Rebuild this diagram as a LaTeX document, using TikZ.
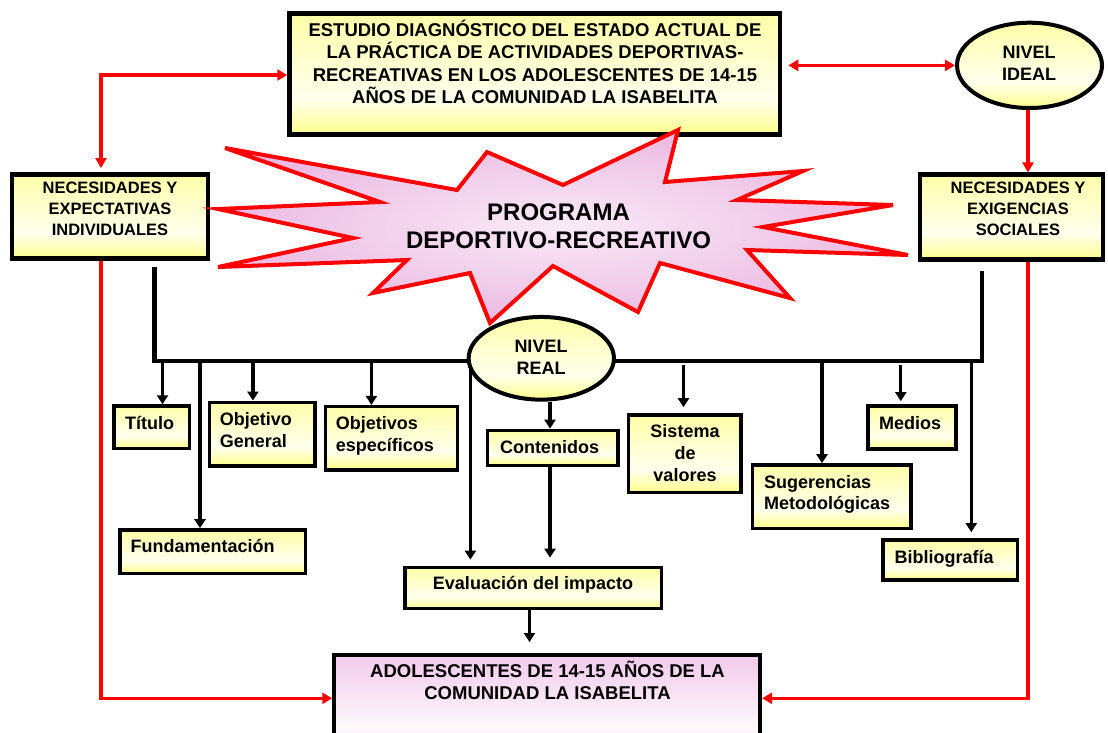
\documentclass[tikz,border=0pt]{standalone}
\usepackage{fontspec}
\setmainfont{Liberation Sans}
\usetikzlibrary{arrows.meta,shapes.geometric}
\definecolor{ycol}{RGB}{255,255,140}
\colorlet{ylight}{ycol!15!white}
\colorlet{ymid}{ycol!75!white}
\definecolor{pcol}{RGB}{240,196,232}
\definecolor{pstarcol}{RGB}{236,186,226}
\colorlet{plight}{pcol!10!white}
\colorlet{pmid}{pcol!90!white}
\colorlet{pstar}{pstarcol!30!white}
\definecolor{rcol}{RGB}{255,0,0}
\pgfdeclareverticalshading{yshade}{100bp}{color(0bp)=(ycol); color(25bp)=(ycol); color(40bp)=(ylight); color(75bp)=(ymid); color(100bp)=(ymid)}
\pgfdeclareverticalshading{pshade}{100bp}{color(0bp)=(pcol); color(25bp)=(pcol); color(40bp)=(plight); color(75bp)=(pmid); color(100bp)=(pmid)}
\pgfdeclarelayer{back}
\pgfdeclarelayer{bg}
\pgfsetlayers{back,bg,main}
\begin{document}
\begin{tikzpicture}[x=1pt,y=-1pt,
  ybox/.style={rectangle, draw=black, line width=3.5pt, shading=yshade, inner sep=0pt},
  pbox/.style={rectangle, draw=black, line width=4pt, shading=pshade, inner sep=0pt},
  yell/.style={ellipse, draw=black, line width=4pt, shading=yshade, inner sep=0pt},
  starshape/.style={draw=rcol, line width=4pt, inner color=pstar, outer color=pstarcol},
  tx/.style={font=\bfseries\fontsize{18}{22}\selectfont, inner sep=0pt},
  bigtx/.style={font=\bfseries\fontsize{24}{28}\selectfont, inner sep=0pt, align=center},
  arr/.style={draw=black, line width=3.2pt, -{Triangle[length=9pt,width=11pt]}},
  busline/.style={draw=black, line width=4.5pt},
  rarr/.style={draw=rcol, line width=3.2pt, -{Triangle[length=10pt,width=11pt]}},
  rboth/.style={draw=rcol, line width=3.2pt, {Triangle[length=10pt,width=11pt]}-{Triangle[length=10pt,width=11pt]}}
]
\clip (0,0) rectangle (1108,732);
\begin{pgfonlayer}{back}
\fill[white] (0,0) rectangle (1108,732);
\end{pgfonlayer}
% main boxes
\node[ybox, line width=4.5pt, minimum width=490.5pt, minimum height=121pt] (top) at (534.75,74.2) {};
\node[ybox, line width=4.5pt, minimum width=196pt, minimum height=84.4pt] (nea) at (110,216.5) {};
\node[ybox, line width=4.5pt, minimum width=183pt, minimum height=85pt] (nes) at (1011.5,217.2) {};
\node[yell, minimum width=145pt, minimum height=85.3pt] (ideal) at (1029.5,65.35) {};
% starburst
\draw[starshape] (225,148) -- (457,190) -- (487,152) -- (563,185) -- (678,130) -- (665,182) -- (803,171) -- (737,200) -- (893,205) -- (763,227) -- (908,255) -- (747,250) -- (790,298) -- (660,263) -- (638,312) -- (553,266) -- (490,323) -- (470,273) -- (373,293) -- (407,260) -- (218,267) -- (353,238) -- (218,209) -- (380,202) -- cycle;
\node[yell, minimum width=145.3pt, minimum height=82.7pt] (real) at (541.3,358.3) {};
% small boxes
\node[ybox, minimum width=75.5pt, minimum height=42.4pt] (titulo) at (151.8,427.2) {};
\node[ybox, minimum width=105.3pt, minimum height=63.8pt] (objgen) at (262.2,434.2) {};
\node[ybox, minimum width=131.8pt, minimum height=63.5pt] (objesp) at (391.5,438.4) {};
\node[ybox, minimum width=185.2pt, minimum height=43.5pt] (fund) at (212.8,551.7) {};
\node[ybox, minimum width=130.3pt, minimum height=35pt] (cont) at (552.8,447.9) {};
\node[ybox, minimum width=256.4pt, minimum height=41.1pt] (eval) at (533.4,587.9) {};
\node[ybox, minimum width=112.5pt, minimum height=77.8pt] (sist) at (684.7,453.8) {};
\node[ybox, minimum width=158.4pt, minimum height=63.5pt] (sug) at (831.6,496.7) {};
\node[ybox, minimum width=87.9pt, minimum height=43.2pt] (medios) at (912,427.5) {};
\node[ybox, minimum width=134.2pt, minimum height=40.2pt] (biblio) at (950.3,560) {};
\node[pbox, minimum width=425.8pt, minimum height=105pt] (bot) at (547.2,707.5) {};
% texts
\node[tx, align=center, font=\bfseries\fontsize{18.5}{22.5}\selectfont] (ttop) at (535,62) {ESTUDIO DIAGNÓSTICO DEL ESTADO ACTUAL DE\\LA PRÁCTICA DE ACTIVIDADES DEPORTIVAS-\\RECREATIVAS EN LOS ADOLESCENTES DE 14-15\\AÑOS DE LA COMUNIDAD LA ISABELITA};
\node[tx, align=center, font=\bfseries\fontsize{16.5}{21}\selectfont] (tnea) at (110,208.8) {NECESIDADES Y\\EXPECTATIVAS\\INDIVIDUALES};
\node[tx, align=center, font=\bfseries\fontsize{16.5}{21}\selectfont] (tnes) at (1018,208.7) {NECESIDADES Y\\EXIGENCIAS\\SOCIALES};
\node[tx, align=center] (tideal) at (1029,63) {NIVEL\\IDEAL};
\node[tx, align=center, font=\bfseries\fontsize{18}{21.6}\selectfont] (treal) at (541,357.5) {NIVEL\\REAL};
\node[bigtx] (tprog) at (558.5,226.7) {PROGRAMA\\DEPORTIVO-RECREATIVO};
\node[tx, anchor=west] (ttit) at (125,422.7) {Título};
\node[tx, anchor=west, align=left] (tobjg) at (219.6,430) {Objetivo\\General};
\node[tx, anchor=west, align=left] (tobje) at (335.7,435.9) {Objetivos\\específicos};
\node[tx, anchor=west] (tfund) at (130.4,546) {Fundamentación};
\node[tx] (tcont) at (549.5,447.3) {Contenidos};
\node[tx] (teval) at (533,584.6) {Evaluación del impacto};
\node[tx, align=center] (tsist) at (685,453.3) {Sistema\\de\\valores};
\node[tx, anchor=west, align=left, font=\bfseries\fontsize{18}{21.6}\selectfont] (tsug) at (764,494.4) {Sugerencias\\Metodológicas};
\node[tx, anchor=west] (tmed) at (879,422.7) {Medios};
\node[tx, anchor=west] (tbib) at (894.3,558.6) {Bibliografía};
\node[tx, align=center, font=\bfseries\fontsize{18.5}{21.6}\selectfont] (tbot) at (547.5,680.5) {ADOLESCENTES DE 14-15 AÑOS DE LA\\COMUNIDAD LA ISABELITA};
% connectors
\begin{pgfonlayer}{bg}
\coordinate (rl) at (101,75);
\coordinate (rr) at (1028,0);
\coordinate (ry) at (0,698.3);
\draw[rboth, shorten >=4pt] (top.west |- rl) -| (rl |- nea.north);
\draw[rboth, shorten <=6pt] (top.east |- ideal.west) -- (ideal.west);
\draw[rarr] (ideal.south -| rr) -- (rr |- nes.north);
\draw[rarr] (rl |- nea.south) |- (bot.west |- ry);
\draw[rarr] (rr |- nes.south) |- (bot.east |- ry);
% bus
\coordinate (blt) at (154.6,267);
\coordinate (bl) at (154.6,361);
\coordinate (br) at (982,361);
\coordinate (brt) at (982,270.7);
\draw[busline] (blt) -- (bl) -- (br) -- (brt);
\coordinate (a1) at (162.5,361);
\coordinate (a2) at (200,361);
\coordinate (a3) at (252.9,361);
\coordinate (a4) at (371.4,361);
\coordinate (a5) at (470.4,366);
\coordinate (a6) at (550,0);
\coordinate (a7) at (529.5,0);
\coordinate (a8) at (683.5,365);
\coordinate (a9) at (822,361);
\coordinate (a10) at (900.8,365);
\coordinate (a11) at (971.3,363.3);
\draw[arr] (a1) -- (a1 |- titulo.north);
\draw[arr] (a2) -- (a2 |- fund.north);
\draw[arr] (a3) -- (a3 |- objgen.north);
\draw[arr] (a4) -- (a4 |- objesp.north);
\draw[arr, shorten >=6pt] (a5) -- (a5 |- eval.north);
\draw[arr] (a6 |- real.south) -- (a6 |- cont.north);
\draw[arr, shorten >=8pt] (a6 |- cont.south) -- (a6 |- eval.north);
\draw[arr, shorten >=11pt] (a7 |- eval.south) -- (a7 |- bot.north);
\draw[arr, shorten >=6pt] (a8) -- (a8 |- sist.north);
\draw[arr] (a9) -- (a9 |- sug.north);
\draw[arr, shorten >=3pt] (a10) -- (a10 |- medios.north);
\draw[arr, shorten >=6pt] (a11) -- (a11 |- biblio.north);
\end{pgfonlayer}
\end{tikzpicture}
\end{document}
